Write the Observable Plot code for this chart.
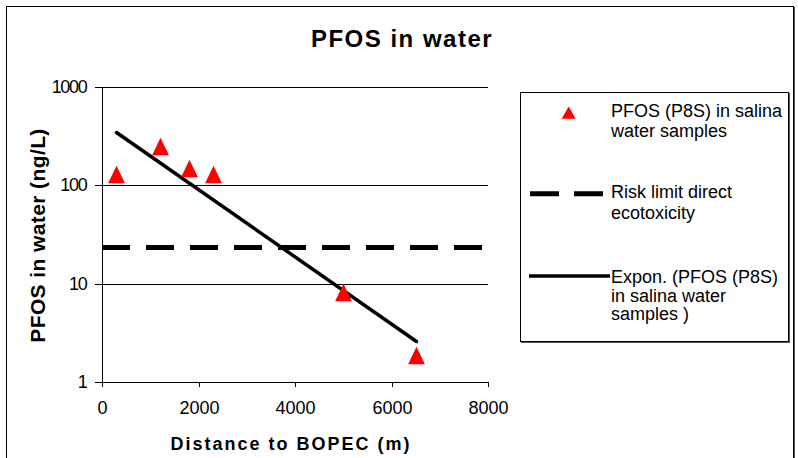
<!DOCTYPE html>
<html>
<head>
<meta charset="utf-8">
<script src="https://cdn.jsdelivr.net/npm/d3@7"></script>
<script src="https://cdn.jsdelivr.net/npm/@observablehq/plot@0.6"></script>
<style>
  html, body { margin: 0; padding: 0; background: #fff; }
  #wrap { position: relative; width: 798px; height: 458px; overflow: hidden; background: #fff;
          font-family: 'Liberation Sans', Arial, sans-serif; }
  #wrap > svg { position: absolute; left: 0; top: 0; }
  #frame { position: absolute; left: 6px; top: 6px; width: 788px; height: 470px;
           border: 1px solid #000; box-shadow: 1px 1px 0 #555; box-sizing: border-box; }
</style>
</head>
<body>
<div id="wrap"><div id="frame"></div></div>
<script>
// ---- data ----
const sampleDistance = [300, 1200, 1800, 2300, 5000, 6500];
const samplePFOS     = [130, 250, 150, 130, 8.2, 1.9];
const trendDistance  = [300, 6500];
const trendPFOS      = [350, 2.6];
const riskLimit      = 23.5;
const xTicks = [0, 2000, 4000, 6000, 8000];
const yTicks = [1, 10, 100, 1000];
const gridValues = [10, 100, 1000];
const legendLabels = [
  ["PFOS (P8S) in salina", "water samples"],
  ["Risk limit direct", "ecotoxicity"],
  ["Expon. (PFOS (P8S)", "in salina water", "samples )"]
];

const samples = sampleDistance.map((d, i) => ({distance: d, pfos: samplePFOS[i]}));
const trend = trendDistance.map((d, i) => ({distance: d, pfos: trendPFOS[i]}));

// bbox-centred triangle (like spreadsheet markers)
const triangle = {
  draw(context, size) {
    const r = Math.sqrt(size / Math.PI);
    const hw = 1.4 * r, h = 2.9 * r;
    context.moveTo(0, -h / 2);
    context.lineTo(hw, h / 2);
    context.lineTo(-hw, h / 2);
    context.closePath();
  }
};

const chart = Plot.plot({
  width: 798,
  height: 458,
  marginLeft: 102,
  marginRight: 310,
  marginTop: 87,
  marginBottom: 76,
  style: {fontFamily: "'Liberation Sans', Arial, sans-serif", fontSize: "18px", color: "#000", background: "transparent", overflow: "visible"},
  x: {domain: [0, 8000], ticks: xTicks, tickFormat: d => String(d), label: null, tickSize: 5, tickPadding: 14, round: true},
  y: {type: "log", domain: [1, 1000], ticks: yTicks, tickFormat: d => String(d), label: null, tickSize: 7, tickPadding: 9, round: true},
  marks: [
    Plot.ruleY(gridValues, {stroke: "#000", strokeWidth: 1}),
    Plot.ruleY([1], {stroke: "#000", strokeWidth: 1}),
    Plot.ruleX([0], {stroke: "#000", strokeWidth: 1}),
    Plot.ruleY([riskLimit], {stroke: "#000", strokeWidth: 5, strokeDasharray: "28,16"}),
    Plot.line(trend, {x: "distance", y: "pfos", stroke: "#000", strokeWidth: 3.5}),
    Plot.dot(samples, {x: "distance", y: "pfos", symbol: triangle, r: 6, fill: "#ff0000", stroke: "none"})
  ]
});
const wrap = document.getElementById("wrap");
wrap.insertBefore(chart, document.getElementById("frame"));
chart.querySelectorAll('[aria-label="y-axis tick label"] text').forEach(t => t.setAttribute("letter-spacing", "-1.3"));

// ---- overlay: title, axis titles, legend ----
const ov = d3.select(wrap).append("svg")
  .attr("width", 798).attr("height", 458)
  .style("font-family", "'Liberation Sans', Arial, sans-serif");

ov.append("text").attr("x", 402).attr("y", 47).attr("text-anchor", "middle")
  .attr("font-size", 24).attr("font-weight", "bold").attr("letter-spacing", 1.5)
  .text("PFOS in water");

ov.append("text").attr("transform", "translate(45,235.5) rotate(-90)").attr("text-anchor", "middle")
  .attr("font-size", 21).attr("font-weight", "bold").attr("letter-spacing", 0.4)
  .text("PFOS in water (ng/L)");

ov.append("text").attr("x", 291).attr("y", 450).attr("text-anchor", "middle")
  .attr("font-size", 18).attr("font-weight", "bold").attr("letter-spacing", 2)
  .text("Distance to BOPEC (m)");

// legend box
ov.append("rect").attr("x", 521.5).attr("y", 93.5).attr("width", 268).attr("height", 249)
  .attr("fill", "none").attr("stroke", "#555").attr("stroke-width", 1);
ov.append("rect").attr("x", 520.5).attr("y", 92.5).attr("width", 268).attr("height", 249)
  .attr("fill", "#fff").attr("stroke", "#000").attr("stroke-width", 1);

// legend symbols
ov.append("path").attr("d", "M568.7,106.5 L575.7,118.7 L561.7,118.7 Z").attr("fill", "#ff0000");
ov.append("line").attr("x1", 530).attr("x2", 603).attr("y1", 193.7).attr("y2", 193.7)
  .attr("stroke", "#000").attr("stroke-width", 5).attr("stroke-dasharray", "29,15");
ov.append("line").attr("x1", 529).attr("x2", 610).attr("y1", 276).attr("y2", 276)
  .attr("stroke", "#000").attr("stroke-width", 3.5);

const baselines = [[116.7, 136.7], [198, 218.5], [282.7, 301.5, 320]];
legendLabels.forEach((lines, i) => {
  lines.forEach((s, j) => {
    ov.append("text").attr("x", 611).attr("y", baselines[i][j])
      .attr("font-size", 18).text(s);
  });
});
</script>
</body>
</html>
